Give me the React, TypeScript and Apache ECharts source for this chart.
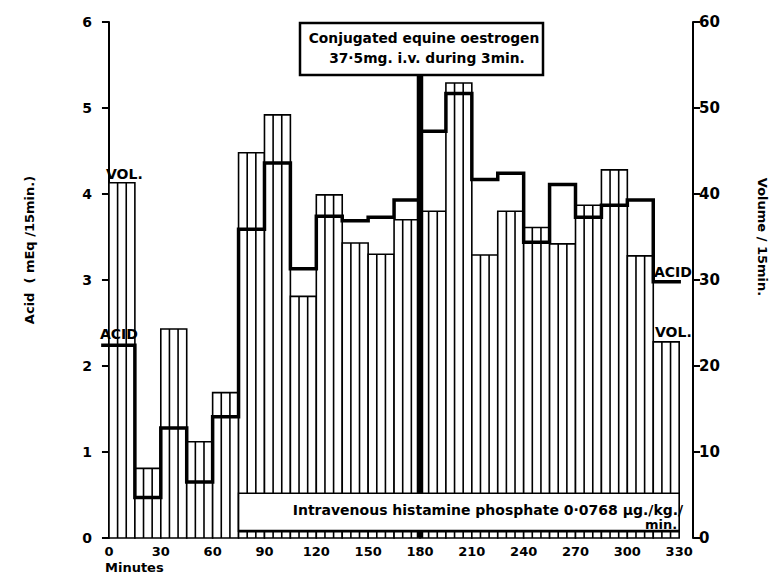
import React, { useEffect, useRef } from "react";
import * as echarts from "echarts";

// Collection periods (minutes, start of each 15-min period)
const periodStart = [0, 15, 30, 45, 60, 75, 90, 105, 120, 135, 150, 165, 180, 195, 210, 225, 240, 255, 270, 285, 300, 315];
const periodLength = 15;
// Volume (ml / 15 min) – hatched bars, right axis
const volume = [41.3, 8.1, 24.3, 11.2, 16.9, 44.8, 49.2, 28.1, 39.9, 34.3, 33.0, 37.0, 38.0, 52.9, 32.9, 38.0, 36.1, 34.2, 38.7, 42.8, 32.8, 22.8];
// Acid (mEq / 15 min) – thick step line, left axis
const acid = [2.24, 0.47, 1.28, 0.65, 1.41, 3.59, 4.36, 3.13, 3.74, 3.69, 3.73, 3.93, 4.73, 5.17, 4.17, 4.24, 3.44, 4.11, 3.73, 3.87, 3.93, 2.98];
const xTicks = [0, 30, 60, 90, 120, 150, 180, 210, 240, 270, 300, 330];
const injectionTime = 180;
const histamineStart = 75;
const histamineEnd = 330;

const FONT = '"DejaVu Sans", sans-serif';

export default function App() {
  const ref = useRef<HTMLDivElement>(null);
  useEffect(() => {
    if (!ref.current) return;
    const chart = echarts.init(ref.current, undefined, { renderer: "svg" });

    const barData = periodStart.map((s, i) => [s, s + periodLength, volume[i]]);
    const acidPts: number[][] = [];
    periodStart.forEach((s, i) => {
      acidPts.push([i === 0 ? s - 3.5 : s, acid[i]]);
      acidPts.push([s + periodLength, acid[i]]);
    });

    const txt = (text: string, x: number, y: number, size: number, extra: any = {}) => ({
      type: "text",
      z: 20,
      x,
      y,
      ...extra,
      style: {
        text,
        fill: "#000",
        fontSize: size,
        fontWeight: "bold",
        fontFamily: FONT,
        align: extra.align || "left",
        verticalAlign: "middle",
      },
    });

    const option: any = {
      animation: false,
      backgroundColor: "#fff",
      grid: { left: 96, right: 82, top: 22, bottom: 39 },
      xAxis: {
        type: "value",
        min: -7.5,
        max: 338,
        axisLine: { show: false },
        axisTick: { show: false },
        splitLine: { show: false },
        axisLabel: {
          customValues: xTicks,
          color: "#000",
          fontSize: 13,
          fontWeight: "bold",
          fontFamily: FONT,
          margin: 7,
        },
      },
      yAxis: [
        {
          type: "value",
          min: 0,
          max: 6,
          interval: 1,
          position: "left",
          axisLine: { show: true, lineStyle: { color: "#000", width: 2 } },
          axisTick: { show: true, length: 7, lineStyle: { color: "#000", width: 2 } },
          splitLine: { show: false },
          axisLabel: { color: "#000", fontSize: 14, fontWeight: "bold", fontFamily: FONT, margin: 4 },
        },
        {
          type: "value",
          min: 0,
          max: 60,
          interval: 10,
          position: "right",
          axisLine: { show: true, lineStyle: { color: "#000", width: 2 } },
          axisTick: { show: true, length: 7, lineStyle: { color: "#000", width: 2 } },
          splitLine: { show: false },
          axisLabel: { color: "#000", fontSize: 15, fontWeight: "bold", fontFamily: FONT, margin: 6 },
        },
      ],
      series: [
        {
          type: "custom",
          name: "Volume",
          yAxisIndex: 1,
          z: 1,
          encode: { x: [0, 1], y: 2 },
          data: barData,
          renderItem: (params: any, api: any) => {
            const s = api.value(0);
            const e = api.value(1);
            const v = api.value(2);
            const p0 = api.coord([s, 0]);
            const p1 = api.coord([e, v]);
            const w = p1[0] - p0[0];
            const h = p0[1] - p1[1];
            const ls = { stroke: "#000", lineWidth: 1.6 };
            return {
              type: "group",
              children: [
                { type: "rect", shape: { x: p0[0], y: p1[1], width: w, height: h }, style: { fill: "#fff", ...ls } },
                { type: "line", shape: { x1: p0[0] + w / 3, y1: p1[1], x2: p0[0] + w / 3, y2: p0[1] }, style: ls },
                { type: "line", shape: { x1: p0[0] + (2 * w) / 3, y1: p1[1], x2: p0[0] + (2 * w) / 3, y2: p0[1] }, style: ls },
              ],
            };
          },
        },
        {
          type: "line",
          name: "Acid",
          yAxisIndex: 0,
          z: 3,
          data: acidPts,
          symbol: "none",
          lineStyle: { color: "#000", width: 3.5, cap: "square", join: "miter" },
        },
        {
          type: "line",
          name: "Injection",
          yAxisIndex: 0,
          z: 4,
          data: [
            [injectionTime, 0],
            [injectionTime, 5.4],
          ],
          symbol: "none",
          lineStyle: { color: "#000", width: 6.5 },
        },
        {
          type: "custom",
          name: "Histamine",
          yAxisIndex: 0,
          z: 5,
          encode: { x: [0, 1], y: [2, 3] },
          data: [[histamineStart, histamineEnd, 0.08, 0.52]],
          renderItem: (params: any, api: any) => {
            const pA = api.coord([api.value(0), api.value(3)]);
            const pB = api.coord([api.value(1), api.value(2)]);
            return {
              type: "group",
              children: [
                {
                  type: "rect",
                  shape: { x: pA[0], y: pA[1], width: pB[0] - pA[0], height: pB[1] - pA[1] },
                  style: { fill: "#fff", stroke: "#000", lineWidth: 1.6 },
                },
                {
                  type: "line",
                  shape: { x1: pA[0], y1: pB[1], x2: pB[0], y2: pB[1] },
                  style: { stroke: "#000", lineWidth: 2.8 },
                },
                {
                  type: "text",
                  x: pB[0] + 4,
                  y: pA[1] + 17,
                  style: {
                    text: "Intravenous histamine phosphate 0·0768 µg./kg./",
                    fill: "#000",
                    fontSize: 14,
                    fontWeight: "bold",
                    fontFamily: FONT,
                    align: "right",
                    verticalAlign: "middle",
                  },
                },
                {
                  type: "text",
                  x: pB[0] - 2,
                  y: pA[1] + 31,
                  style: {
                    text: "min.",
                    fill: "#000",
                    fontSize: 13,
                    fontWeight: "bold",
                    fontFamily: FONT,
                    align: "right",
                    verticalAlign: "middle",
                  },
                },
              ],
            };
          },
        },
      ],
      graphic: [
        {
          type: "rect",
          z: 19,
          shape: { x: 300, y: 23, width: 243, height: 52 },
          style: { fill: "#fff", stroke: "#000", lineWidth: 2.5 },
        },
        txt("Conjugated equine oestrogen", 424, 38, 13.8, { align: "center" }),
        txt("37·5mg. i.v. during 3min.", 427, 58, 13.8, { align: "center" }),
        txt("VOL.", 106, 174, 14),
        txt("ACID", 100, 334, 14),
        txt("ACID", 654, 272, 14),
        txt("VOL.", 655, 332, 14),
        txt("Minutes", 105, 567, 13),
        txt("Acid  ( mEq /15min.)", 29, 250, 13, { align: "center", rotation: Math.PI / 2 }),
        txt("Volume / 15min.", 762, 237, 13, { align: "center", rotation: -Math.PI / 2 }),
      ],
    };

    chart.setOption(option);
    return () => chart.dispose();
  }, []);

  return <div ref={ref} style={{ position: "fixed", left: 0, top: 0, width: 775, height: 577 }} />;
}
